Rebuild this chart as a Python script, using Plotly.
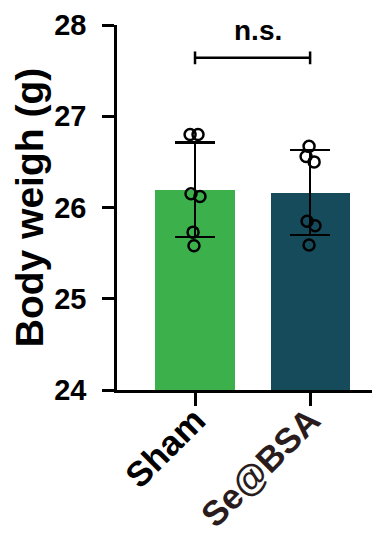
import numpy as np
import plotly.graph_objects as go

categories = ["Sham", "Se@BSA"]
sham_values = [26.80, 26.80, 26.15, 26.12, 25.73, 25.58]
sebsa_values = [26.67, 26.56, 26.50, 25.85, 25.80, 25.59]
sham_jitter = [-0.043, 0.026, -0.035, 0.043, -0.017, -0.009]
sebsa_jitter = [-0.009, -0.035, 0.035, -0.026, 0.043, -0.009]
y_ticks = [24, 25, 26, 27, 28]
sig_label = "n.s."

groups = [sham_values, sebsa_values]
jitters = [sham_jitter, sebsa_jitter]
bar_colors = ["#3bb04b", "#164b5c"]
label_colors = ["#000000", "#2a1c1c"]

means = [float(np.mean(g)) for g in groups]
sds = [float(np.std(g, ddof=1)) for g in groups]
xs = list(range(len(categories)))

fig = go.Figure()
fig.add_trace(go.Bar(
    x=xs, y=[m - 24 for m in means], base=24, width=0.687,
    marker=dict(color=bar_colors, line=dict(width=0)),
    error_y=dict(type="data", array=sds, visible=True, color="black", thickness=2.3, width=20),
    showlegend=False,
))
for i, (g, j) in enumerate(zip(groups, jitters)):
    fig.add_trace(go.Scatter(
        x=[i + d for d in j], y=g, mode="markers",
        marker=dict(symbol="circle-open", size=11, color="black", line=dict(width=2.5, color="black")),
        showlegend=False,
    ))

# significance bracket
by = 27.64
fig.add_shape(type="line", x0=0, x1=1, y0=by, y1=by, line=dict(color="black", width=2.5))
for xv in (0, 1):
    fig.add_shape(type="line", x0=xv, x1=xv, y0=by - 0.07, y1=by + 0.07, line=dict(color="black", width=2.5))
fig.add_annotation(x=0.55, y=27.75, text="<b>%s</b>" % sig_label, showarrow=False,
                   yanchor="bottom", font=dict(size=28, color="black", family="Liberation Sans, Arial"))

ticktext = ['<span style="color:%s"><b>%s</b></span>' % (c, t) for c, t in zip(label_colors, categories)]

# page body has an 8px default margin, so the figure is sized to fit the window
fig.update_layout(
    width=372, height=525,
    margin=dict(l=109, r=2, t=17, b=143, autoexpand=False),
    plot_bgcolor="white", paper_bgcolor="white",
    font=dict(family="Liberation Sans, Arial", color="black"),
    bargap=0,
)
fig.update_xaxes(
    range=[-0.678, 1.59], tickvals=xs, ticktext=ticktext, tickangle=-45,
    showline=True, linecolor="black", linewidth=2.5,
    ticks="outside", ticklen=13, tickwidth=2.5, tickcolor="black",
    showgrid=False, zeroline=False, tickfont=dict(size=35), automargin=False,
    ticklabelstandoff=-20,
)
fig.update_yaxes(
    range=[24, 28], tickvals=y_ticks, ticktext=["<b>%d</b>" % v for v in y_ticks],
    showline=True, linecolor="black", linewidth=2.5,
    ticks="outside", ticklen=12, tickwidth=2.5, tickcolor="black",
    showgrid=False, zeroline=False, tickfont=dict(size=29), ticklabelstandoff=10,
    title=dict(text="<b>Body weigh (g)</b>", font=dict(size=39), standoff=17), automargin=False,
)
fig.write_html("out.html")
